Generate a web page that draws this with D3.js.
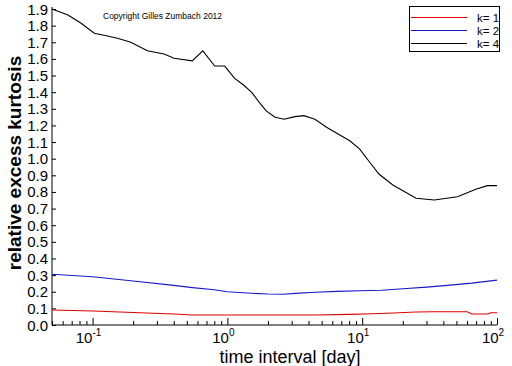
<!DOCTYPE html>
<html><head><meta charset="utf-8">
<script src="https://cdn.jsdelivr.net/npm/d3@7"></script>
<style>body{margin:0;background:#fff}svg{display:block}</style>
</head><body><svg id="c" width="512" height="366"></svg>
<script>
const k4T = [0.05,0.0656,0.0822,0.103,0.129,0.153,0.192,0.255,0.339,0.402,0.549,0.657,0.806,0.955,1.132,1.319,1.521,1.73,1.94,2.261,2.634,3.176,3.7,4.46,5.441,6.824,8.088,9.59,11.04,13.31,16.88,25.1,34.3,50.9,69.6,84.8,100];
const k4V = [1.90,1.864,1.814,1.754,1.738,1.724,1.700,1.649,1.630,1.604,1.588,1.648,1.557,1.557,1.483,1.443,1.397,1.337,1.287,1.249,1.237,1.253,1.259,1.237,1.189,1.143,1.108,1.057,0.992,0.908,0.842,0.762,0.752,0.771,0.816,0.838,0.838];
const k2T = [0.05,0.1,0.2,0.4,0.55,0.8,1.0,1.4,2.0,2.6,3.2,4.5,6.5,9.5,14,20,30,45,65,100];
const k2V = [0.305,0.290,0.265,0.238,0.225,0.212,0.200,0.192,0.186,0.185,0.190,0.197,0.202,0.206,0.209,0.218,0.228,0.240,0.252,0.270];
const k1T = [0.05,0.1,0.16,0.25,0.4,0.55,1.0,2.0,4.6,8.0,12,17,25,33,45,60,65,85,90,100];
const k1V = [0.090,0.084,0.078,0.072,0.066,0.060,0.060,0.060,0.060,0.064,0.068,0.072,0.078,0.080,0.080,0.080,0.066,0.066,0.074,0.074];
const seriesNames = ["k= 1","k= 2","k= 4"];
const yTicks = d3.range(0,20).map(i=>i/10);
const xMajor = [0.1,1,10,100];
const xMajorExp = ["-1","0","1","2"];

const svg = d3.select("#c");
const x = d3.scaleLog().domain([0.05,100]).range([52,497]);
const y = d3.scaleLinear().domain([0,1.9]).range([325,9]);
const font = "'Liberation Sans', Arial, Helvetica, sans-serif";

// y axis
const yAx = svg.append("g").attr("transform","translate(52,0)")
  .call(d3.axisRight(y).tickValues(yTicks).tickSize(4).tickFormat(""));
yAx.select(".domain").attr("d","M0,325V7");
svg.append("g").selectAll("text").data(yTicks).join("text")
  .attr("x",48).attr("y",d=>y(d)+5.5).attr("text-anchor","end")
  .attr("font-family",font).attr("font-size",15).text(d=>d.toFixed(1));

// x axis
const minor = [];
[0.01,0.1,1,10].forEach(b=>{for(let m=2;m<=9;m++){const v=b*m; if(v>=0.05&&v<=100) minor.push(v);}});
const xAxG = svg.append("g").attr("transform","translate(0,325)");
xAxG.call(d3.axisTop(x).tickValues(minor).tickSize(4).tickFormat(""));
xAxG.select(".domain").attr("d","M52,0H497");
const xAxM = svg.append("g").attr("transform","translate(0,325)")
  .call(d3.axisTop(x).tickValues(xMajor).tickSize(7).tickFormat(""));
xAxM.select(".domain").remove();
svg.selectAll(".tick line, .domain").attr("stroke","#000").attr("stroke-width",1);
const xl = svg.append("g").selectAll("text").data(xMajor).join("text")
  .attr("x",d=>x(d)-4).attr("y",343).attr("text-anchor","middle")
  .attr("font-family",font).attr("font-size",15);
xl.append("tspan").text("10");
xl.append("tspan").attr("font-size",10).attr("dy",-7).text((d,i)=>xMajorExp[i]);

// lines
const line = d3.line().x(d=>x(d[0])).y(d=>y(d[1]));
const data = [
  {t:k1T,v:k1V,c:"#dd0000"},
  {t:k2T,v:k2V,c:"#1818c8"},
  {t:k4T,v:k4V,c:"#000000"}];
data.forEach(s=>{
  svg.append("path").attr("d",line(s.t.map((t,i)=>[t,s.v[i]])))
    .attr("fill","none").attr("stroke",s.c).attr("stroke-width",1.1);
});

// labels
svg.append("text").attr("transform","translate(21,163) rotate(-90)")
  .attr("text-anchor","middle").attr("font-family",font).attr("font-size",19).attr("font-weight","bold")
  .text("relative excess kurtosis");
svg.append("text").attr("x",290).attr("y",363).attr("text-anchor","middle")
  .attr("font-family",font).attr("font-size",18).text("time interval [day]");
svg.append("text").attr("x",103).attr("y",19).attr("font-family",font).attr("font-size",8.5)
  .text("Copyright Gilles Zumbach 2012");

// legend
svg.append("rect").attr("x",409.5).attr("y",6.5).attr("width",90).attr("height",45)
  .attr("fill","#fff").attr("stroke","#000");
const ly = [17,30,43];
data.forEach((s,i)=>{
  svg.append("line").attr("x1",411).attr("x2",467).attr("y1",ly[i]+0.5).attr("y2",ly[i]+0.5)
    .attr("stroke",s.c).attr("stroke-width",1);
  svg.append("text").attr("x",477).attr("y",ly[i]+4.5).attr("font-family",font).attr("font-size",11.5).text(seriesNames[i]);
});
</script></body></html>
